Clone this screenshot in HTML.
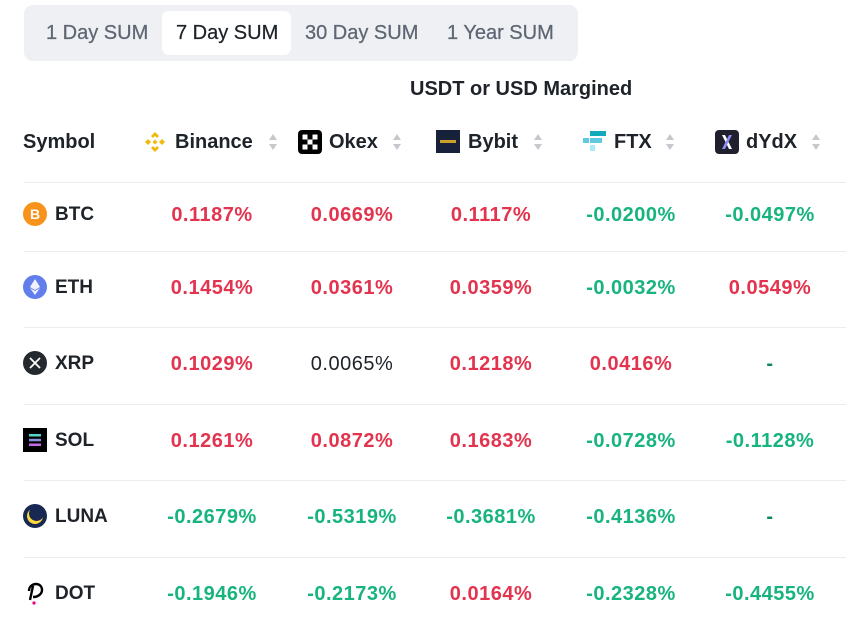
<!DOCTYPE html>
<html><head><meta charset="utf-8">
<style>
*{margin:0;padding:0;box-sizing:border-box}
html,body{width:846px;height:631px;background:#fff;overflow:hidden;font-family:"Liberation Sans",sans-serif;color:#1e2329}
.a{position:absolute;white-space:nowrap}
.tabs{position:absolute;left:24px;top:5px;width:554px;height:56px;background:#eef0f3;border-radius:9px}
.act{position:absolute;left:162px;top:11px;width:129px;height:44px;background:#fff;border-radius:7px}
.tab{font-size:20px;color:#5e6673;top:20px;line-height:26px;-webkit-text-stroke:0.25px currentColor}
.hd{font-size:20px;font-weight:bold;line-height:24px;top:130px;color:#1e2329}
.sym{font-size:19px;font-weight:bold;line-height:24px;color:#1e2329}
.v{font-size:20px;font-weight:bold;letter-spacing:0.5px;line-height:24px;width:140px;text-align:center;margin-top:1px}
.r{color:#e3344f}.g{color:#17b47d}.k{color:#1e2329}.dg{color:#0b8a58}
.line{position:absolute;left:24px;width:822px;height:1px;background:#eaecef}
.arr{position:absolute;width:10px;height:18px}
</style></head><body>
<div class="tabs"></div>
<div class="act"></div>
<div class="a tab" style="left:46px">1 Day SUM</div>
<div class="a tab" style="left:176px;color:#1e2329">7 Day SUM</div>
<div class="a tab" style="left:305px">30 Day SUM</div>
<div class="a tab" style="left:447px">1 Year SUM</div>

<div class="a" style="left:410px;top:77px;font-size:20px;font-weight:bold;line-height:24px">USDT or USD Margined</div>

<div class="a hd" style="left:23px">Symbol</div>
<!-- Binance icon -->
<svg class="a" style="left:143px;top:130px" width="24" height="24" viewBox="0 0 24 24">
<g fill="#f0b90b"><path d="M12 2l4 4-2 2-2-2-2 2-2-2z"/><path d="M12 22l-4-4 2-2 2 2 2-2 2 2z"/><path d="M2 12l3-3 3 3-3 3z"/><path d="M22 12l-3-3-3 3 3 3z"/><path d="M12 9.5l2.5 2.5-2.5 2.5-2.5-2.5z"/></g></svg>
<div class="a hd" style="left:175px">Binance</div>
<svg class="arr" style="left:268px;top:133px" viewBox="0 0 10 18"><path d="M5 1l4 6H1z" fill="#c5c8cd"/><path d="M5 17l4-6H1z" fill="#c5c8cd"/></svg>
<!-- Okex -->
<svg class="a" style="left:298px;top:130px" width="24" height="24" viewBox="0 0 24 24">
<rect width="24" height="24" rx="4" fill="#000"/><g fill="#fff"><rect x="4.5" y="4.5" width="5" height="5"/><rect x="14.5" y="4.5" width="5" height="5"/><rect x="9.5" y="9.5" width="5" height="5"/><rect x="4.5" y="14.5" width="5" height="5"/><rect x="14.5" y="14.5" width="5" height="5"/></g></svg>
<div class="a hd" style="left:329px">Okex</div>
<svg class="arr" style="left:392px;top:133px" viewBox="0 0 10 18"><path d="M5 1l4 6H1z" fill="#c5c8cd"/><path d="M5 17l4-6H1z" fill="#c5c8cd"/></svg>
<!-- Bybit -->
<svg class="a" style="left:436px;top:130px" width="24" height="23" viewBox="0 0 24 23">
<rect width="24" height="23" fill="#17213a"/><rect x="4" y="10" width="16" height="3" fill="#c9a227"/></svg>
<div class="a hd" style="left:468px">Bybit</div>
<svg class="arr" style="left:533px;top:133px" viewBox="0 0 10 18"><path d="M5 1l4 6H1z" fill="#c5c8cd"/><path d="M5 17l4-6H1z" fill="#c5c8cd"/></svg>
<!-- FTX -->
<svg class="a" style="left:582px;top:130px" width="24" height="24" viewBox="0 0 24 24">
<rect x="8" y="1" width="16" height="5" fill="#11a9bc"/><rect x="8" y="8" width="12" height="5" fill="#5fcade"/><rect x="1" y="8" width="6" height="5" fill="#5fcade"/><rect x="8" y="15" width="5" height="6" fill="#abebf4"/></svg>
<div class="a hd" style="left:614px">FTX</div>
<svg class="arr" style="left:665px;top:133px" viewBox="0 0 10 18"><path d="M5 1l4 6H1z" fill="#c5c8cd"/><path d="M5 17l4-6H1z" fill="#c5c8cd"/></svg>
<!-- dYdX -->
<svg class="a" style="left:715px;top:130px" width="24" height="24" viewBox="0 0 24 24">
<rect width="24" height="24" rx="4" fill="#1f1f2e"/><path d="M7 5h3l7 14h-3z" fill="#fff"/><path d="M17 5h-3L7 19h3z" fill="#8f8cf5"/></svg>
<div class="a hd" style="left:746px">dYdX</div>
<svg class="arr" style="left:811px;top:133px" viewBox="0 0 10 18"><path d="M5 1l4 6H1z" fill="#c5c8cd"/><path d="M5 17l4-6H1z" fill="#c5c8cd"/></svg>

<div class="line" style="top:182px"></div>
<div class="line" style="top:251px"></div>
<div class="line" style="top:327px"></div>
<div class="line" style="top:404px"></div>
<div class="line" style="top:480px"></div>
<div class="line" style="top:557px"></div>

<!-- BTC row -->
<svg class="a" style="left:23px;top:202px" width="24" height="24" viewBox="0 0 24 24"><circle cx="12" cy="12" r="12" fill="#f7931a"/><text x="12" y="17" font-size="14" font-weight="bold" text-anchor="middle" fill="#fff" font-family="Liberation Sans">B</text></svg>
<div class="a sym" style="left:55px;top:203px">BTC</div>
<div class="a v r" style="left:142px;top:202px">0.1187%</div>
<div class="a v r" style="left:282px;top:202px">0.0669%</div>
<div class="a v r" style="left:421px;top:202px">0.1117%</div>
<div class="a v g" style="left:561px;top:202px">-0.0200%</div>
<div class="a v g" style="left:700px;top:202px">-0.0497%</div>

<!-- ETH -->
<svg class="a" style="left:23px;top:275px" width="24" height="24" viewBox="0 0 24 24"><circle cx="12" cy="12" r="12" fill="#627eea"/><path d="M12 4l5 8-5 3-5-3z" fill="#fff" opacity=".9"/><path d="M12 16l5-3-5 7-5-7z" fill="#fff" opacity=".9"/></svg>
<div class="a sym" style="left:55px;top:276px">ETH</div>
<div class="a v r" style="left:142px;top:275px">0.1454%</div>
<div class="a v r" style="left:282px;top:275px">0.0361%</div>
<div class="a v r" style="left:421px;top:275px">0.0359%</div>
<div class="a v g" style="left:561px;top:275px">-0.0032%</div>
<div class="a v r" style="left:700px;top:275px">0.0549%</div>

<!-- XRP -->
<svg class="a" style="left:23px;top:351px" width="24" height="24" viewBox="0 0 24 24"><circle cx="12" cy="12" r="12" fill="#23292f"/><path d="M7 7l5 5 5-5M7 17l5-5 5 5" stroke="#fff" stroke-width="1.8" fill="none"/></svg>
<div class="a sym" style="left:55px;top:352px">XRP</div>
<div class="a v r" style="left:142px;top:351px">0.1029%</div>
<div class="a v k" style="left:282px;top:351px;font-weight:normal">0.0065%</div>
<div class="a v r" style="left:421px;top:351px">0.1218%</div>
<div class="a v r" style="left:561px;top:351px">0.0416%</div>
<div class="a v dg" style="left:700px;top:351px">-</div>

<!-- SOL -->
<svg class="a" style="left:23px;top:428px" width="24" height="24" viewBox="0 0 24 24"><rect width="24" height="24" fill="#000"/><rect x="6" y="6" width="12" height="2.5" fill="#55d6c2"/><rect x="6" y="10.8" width="12" height="2.5" fill="#8a8fe0"/><rect x="6" y="15.5" width="12" height="2.5" fill="#c66ae8"/></svg>
<div class="a sym" style="left:55px;top:429px">SOL</div>
<div class="a v r" style="left:142px;top:428px">0.1261%</div>
<div class="a v r" style="left:282px;top:428px">0.0872%</div>
<div class="a v r" style="left:421px;top:428px">0.1683%</div>
<div class="a v g" style="left:561px;top:428px">-0.0728%</div>
<div class="a v g" style="left:700px;top:428px">-0.1128%</div>

<!-- LUNA -->
<svg class="a" style="left:23px;top:504px" width="24" height="24" viewBox="0 0 24 24"><circle cx="12" cy="12" r="12" fill="#172852"/><circle cx="12" cy="12" r="8" fill="#ffd83d"/><circle cx="13.5" cy="9.5" r="7.5" fill="#172852"/></svg>
<div class="a sym" style="left:55px;top:505px">LUNA</div>
<div class="a v g" style="left:142px;top:504px">-0.2679%</div>
<div class="a v g" style="left:282px;top:504px">-0.5319%</div>
<div class="a v g" style="left:421px;top:504px">-0.3681%</div>
<div class="a v g" style="left:561px;top:504px">-0.4136%</div>
<div class="a v dg" style="left:700px;top:504px">-</div>

<!-- DOT -->
<svg class="a" style="left:23px;top:581px" width="24" height="26" viewBox="0 0 24 26"><path d="M7 19L10 5" stroke="#000" stroke-width="2.4" fill="none"/><path d="M6 10c0-5 4-7 7-7s6 2 6 6-4 7-9 7" stroke="#000" stroke-width="2.4" fill="none"/><circle cx="11" cy="22" r="1.6" fill="#e6007a"/></svg>
<div class="a sym" style="left:55px;top:582px">DOT</div>
<div class="a v g" style="left:142px;top:581px">-0.1946%</div>
<div class="a v g" style="left:282px;top:581px">-0.2173%</div>
<div class="a v r" style="left:421px;top:581px">0.0164%</div>
<div class="a v g" style="left:561px;top:581px">-0.2328%</div>
<div class="a v g" style="left:700px;top:581px">-0.4455%</div>
</body></html>
